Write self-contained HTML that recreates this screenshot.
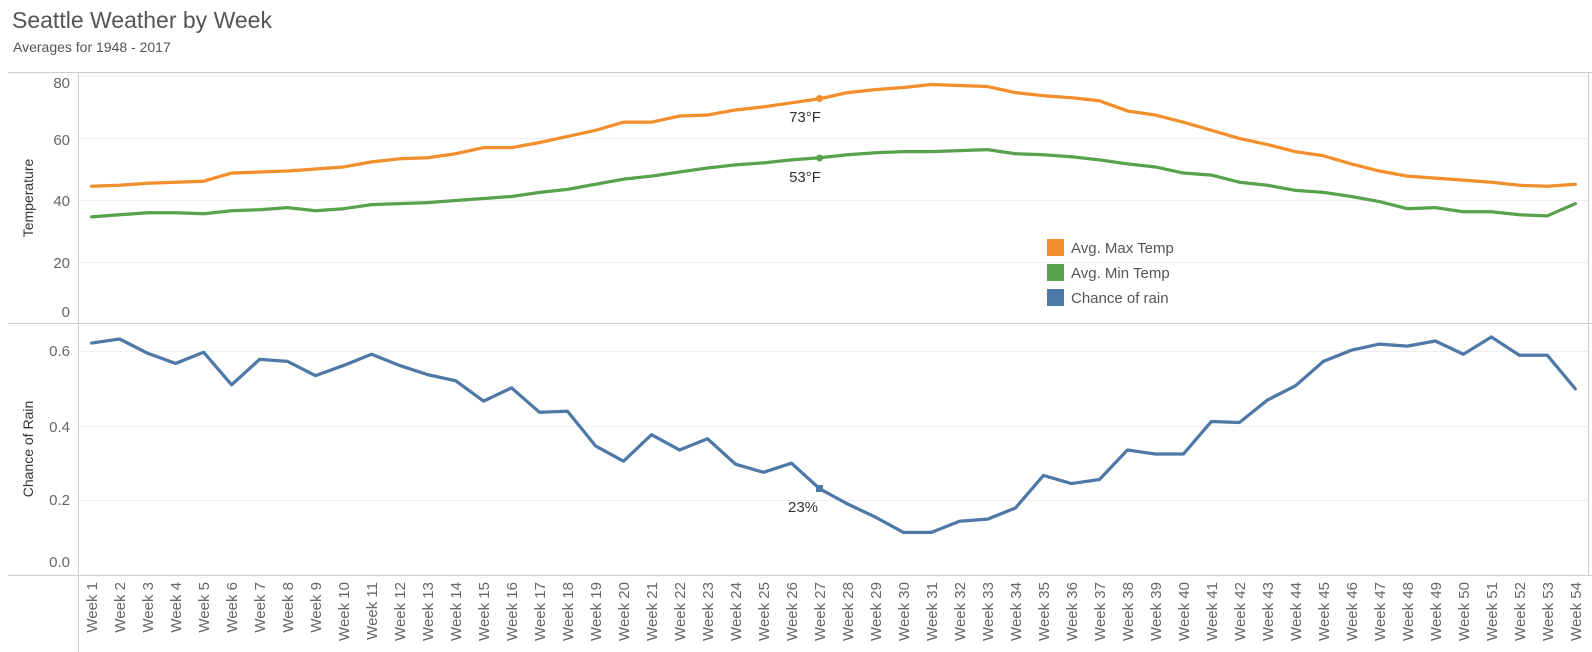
<!DOCTYPE html>
<html><head><meta charset="utf-8"><style>
body{margin:0;background:#fff;}
svg{display:block;font-family:"Liberation Sans",sans-serif;}
</style></head><body>
<svg width="1592" height="652" viewBox="0 0 1592 652" xmlns="http://www.w3.org/2000/svg">
<rect width="1592" height="652" fill="#fff"/>
<text x="12" y="28" font-size="23" fill="#555">Seattle Weather by Week</text>
<text x="13" y="52" font-size="14" fill="#555">Averages for 1948 - 2017</text>
<!-- grid -->
<g stroke="#eeeeee" stroke-width="1">
<line x1="79" y1="76.5" x2="1588" y2="76.5"/>
<line x1="79" y1="138.5" x2="1588" y2="138.5"/>
<line x1="79" y1="200.5" x2="1588" y2="200.5"/>
<line x1="79" y1="262.5" x2="1588" y2="262.5"/>
<line x1="79" y1="351.5" x2="1588" y2="351.5"/>
<line x1="79" y1="426.5" x2="1588" y2="426.5"/>
<line x1="79" y1="500.5" x2="1588" y2="500.5"/>
</g>
<g stroke="#cccccc" stroke-width="1">
<line x1="8" y1="72.5" x2="1592" y2="72.5"/>
<line x1="8" y1="323.5" x2="1592" y2="323.5"/>
<line x1="8" y1="575.5" x2="1592" y2="575.5"/>
<line x1="78.5" y1="72" x2="78.5" y2="652"/>
<line x1="1588.5" y1="72" x2="1588.5" y2="575"/>
</g>
<!-- y ticks -->
<g font-size="15" fill="#666" text-anchor="end">
<text x="70" y="88">80</text>
<text x="70" y="145">60</text>
<text x="70" y="206">40</text>
<text x="70" y="268">20</text>
<text x="70" y="317">0</text>
<text x="70" y="356">0.6</text>
<text x="70" y="432">0.4</text>
<text x="70" y="505">0.2</text>
<text x="70" y="567">0.0</text>
</g>
<text transform="translate(33,198) rotate(-90)" font-size="14" fill="#333" text-anchor="middle">Temperature</text>
<text transform="translate(33,449) rotate(-90)" font-size="14" fill="#333" text-anchor="middle">Chance of Rain</text>
<!-- data -->
<g transform="scale(1.018)" fill="none" stroke-width="3.2" stroke-linejoin="round" stroke-linecap="round">
<polyline stroke="#f28e2b" points="90,183 117.5,182 145,180 172.5,179 200,178 227.5,170 255,169 282.5,168 310,166 337.5,164 365,159 392.5,156 420,155 447.5,151 475,145 502.5,145 530,140 557.5,134 585,128 612.5,120 640,120 667.5,114 695,113 722.5,108 750,105 777.5,101 805,97 832.5,91 860,88 887.5,86 915,83 942.5,84 970,85 997.5,91 1025,94 1052.5,96 1080,99 1107.5,109 1135,113 1162.5,120 1190,128 1217.5,136 1245,142 1272.5,149 1300,153 1327.5,161 1355,168 1382.5,173 1410,175 1437.5,177 1465,179 1492.5,182 1520,183 1547.5,181"/>
<polyline stroke="#59a14f" points="90,213 117.5,211 145,209 172.5,209 200,210 227.5,207 255,206 282.5,204 310,207 337.5,205 365,201 392.5,200 420,199 447.5,197 475,195 502.5,193 530,189 557.5,186 585,181 612.5,176 640,173 667.5,169 695,165 722.5,162 750,160 777.5,157 805,155 832.5,152 860,150 887.5,149 915,149 942.5,148 970,147 997.5,151 1025,152 1052.5,154 1080,157 1107.5,161 1135,164 1162.5,170 1190,172 1217.5,179 1245,182 1272.5,187 1300,189 1327.5,193 1355,198 1382.5,205 1410,204 1437.5,208 1465,208 1492.5,211 1520,212 1547.5,200"/>
<polyline stroke="#4e79a7" points="90,337 117.5,333 145,347 172.5,357 200,346 227.5,378 255,353 282.5,355 310,369 337.5,359 365,348 392.5,359 420,368 447.5,374 475,394 502.5,381 530,405 557.5,404 585,438 612.5,453 640,427 667.5,442 695,431 722.5,456 750,464 777.5,455 805,480 832.5,495 860,508 887.5,523 915,523 942.5,512 970,510 997.5,499 1025,467 1052.5,475 1080,471 1107.5,442 1135,446 1162.5,446 1190,414 1217.5,415 1245,393 1272.5,379 1300,355 1327.5,344 1355,338 1382.5,340 1410,335 1437.5,348 1465,331 1492.5,349 1520,349 1547.5,382"/>
</g>
<circle cx="819.5" cy="98.5" r="3.5" fill="#f28e2b"/>
<circle cx="819.5" cy="158" r="3.5" fill="#59a14f"/>
<rect x="816" y="485" width="7" height="7" fill="#4e79a7"/>
<g font-size="15" fill="#333" text-anchor="middle">
<text x="805" y="122">73°F</text>
<text x="805" y="182">53°F</text>
<text x="803" y="512">23%</text>
</g>
<!-- legend -->
<rect x="1047" y="239" width="17" height="17" fill="#f28e2b"/>
<rect x="1047" y="264" width="17" height="17" fill="#59a14f"/>
<rect x="1047" y="289" width="17" height="17" fill="#4e79a7"/>
<g font-size="15" fill="#555">
<text x="1071" y="253">Avg. Max Temp</text>
<text x="1071" y="278">Avg. Min Temp</text>
<text x="1071" y="303">Chance of rain</text>
</g>
<!-- x labels -->
<g font-size="15" fill="#666" text-anchor="end">
<text transform="translate(97,582) rotate(-90)">Week 1</text>
<text transform="translate(125,582) rotate(-90)">Week 2</text>
<text transform="translate(153,582) rotate(-90)">Week 3</text>
<text transform="translate(181,582) rotate(-90)">Week 4</text>
<text transform="translate(209,582) rotate(-90)">Week 5</text>
<text transform="translate(237,582) rotate(-90)">Week 6</text>
<text transform="translate(265,582) rotate(-90)">Week 7</text>
<text transform="translate(293,582) rotate(-90)">Week 8</text>
<text transform="translate(321,582) rotate(-90)">Week 9</text>
<text transform="translate(349,582) rotate(-90)">Week 10</text>
<text transform="translate(377,582) rotate(-90)">Week 11</text>
<text transform="translate(405,582) rotate(-90)">Week 12</text>
<text transform="translate(433,582) rotate(-90)">Week 13</text>
<text transform="translate(461,582) rotate(-90)">Week 14</text>
<text transform="translate(489,582) rotate(-90)">Week 15</text>
<text transform="translate(517,582) rotate(-90)">Week 16</text>
<text transform="translate(545,582) rotate(-90)">Week 17</text>
<text transform="translate(573,582) rotate(-90)">Week 18</text>
<text transform="translate(601,582) rotate(-90)">Week 19</text>
<text transform="translate(629,582) rotate(-90)">Week 20</text>
<text transform="translate(657,582) rotate(-90)">Week 21</text>
<text transform="translate(685,582) rotate(-90)">Week 22</text>
<text transform="translate(713,582) rotate(-90)">Week 23</text>
<text transform="translate(741,582) rotate(-90)">Week 24</text>
<text transform="translate(769,582) rotate(-90)">Week 25</text>
<text transform="translate(797,582) rotate(-90)">Week 26</text>
<text transform="translate(825,582) rotate(-90)">Week 27</text>
<text transform="translate(853,582) rotate(-90)">Week 28</text>
<text transform="translate(881,582) rotate(-90)">Week 29</text>
<text transform="translate(909,582) rotate(-90)">Week 30</text>
<text transform="translate(937,582) rotate(-90)">Week 31</text>
<text transform="translate(965,582) rotate(-90)">Week 32</text>
<text transform="translate(993,582) rotate(-90)">Week 33</text>
<text transform="translate(1021,582) rotate(-90)">Week 34</text>
<text transform="translate(1049,582) rotate(-90)">Week 35</text>
<text transform="translate(1077,582) rotate(-90)">Week 36</text>
<text transform="translate(1105,582) rotate(-90)">Week 37</text>
<text transform="translate(1133,582) rotate(-90)">Week 38</text>
<text transform="translate(1161,582) rotate(-90)">Week 39</text>
<text transform="translate(1189,582) rotate(-90)">Week 40</text>
<text transform="translate(1217,582) rotate(-90)">Week 41</text>
<text transform="translate(1245,582) rotate(-90)">Week 42</text>
<text transform="translate(1273,582) rotate(-90)">Week 43</text>
<text transform="translate(1301,582) rotate(-90)">Week 44</text>
<text transform="translate(1329,582) rotate(-90)">Week 45</text>
<text transform="translate(1357,582) rotate(-90)">Week 46</text>
<text transform="translate(1385,582) rotate(-90)">Week 47</text>
<text transform="translate(1413,582) rotate(-90)">Week 48</text>
<text transform="translate(1441,582) rotate(-90)">Week 49</text>
<text transform="translate(1469,582) rotate(-90)">Week 50</text>
<text transform="translate(1497,582) rotate(-90)">Week 51</text>
<text transform="translate(1525,582) rotate(-90)">Week 52</text>
<text transform="translate(1553,582) rotate(-90)">Week 53</text>
<text transform="translate(1581,582) rotate(-90)">Week 54</text>
</g>
</svg>
</body></html>
